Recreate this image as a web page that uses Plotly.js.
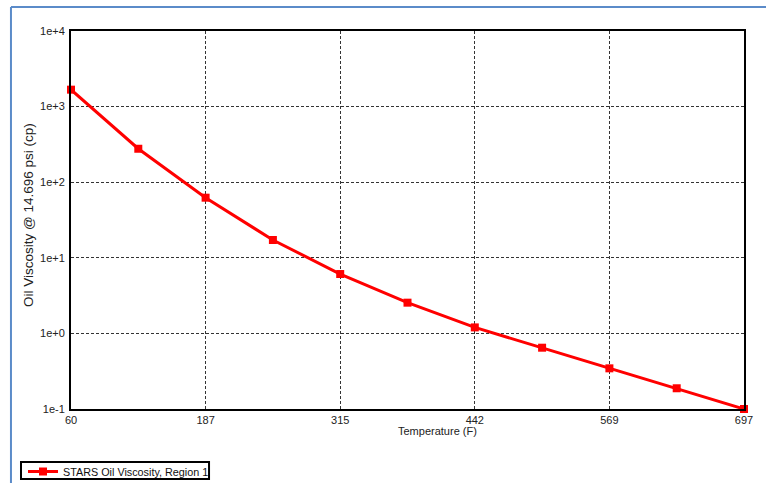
<!DOCTYPE html>
<html>
<head>
<meta charset="utf-8">
<script src="https://cdn.plot.ly/plotly-3.0.1.min.js"></script>
<style>
  html, body { margin: 0; padding: 0; background: #ffffff; }
  #chart { width: 766px; height: 483px; }
</style>
</head>
<body>
<div id="chart"></div>
<script>
// Data
const temperatureF = [60, 123.7, 187.4, 251.1, 314.8, 378.5, 442.2, 505.9, 569.6, 633.3, 697];
const viscosityCp = [1675, 277, 62.4, 17.2, 6.1, 2.55, 1.2, 0.647, 0.345, 0.188, 0.1];
const seriesName = "STARS Oil Viscosity, Region 1";
const xTitle = "Temperature (F)";
const yTitle = "Oil Viscosity @ 14.696 psi (cp)";

const xTickVals = [60, 187.4, 314.8, 442.2, 569.6, 697];
const xTickText = ["60", "187", "315", "442", "569", "697"];
const yTickVals = [0.1, 1, 10, 100, 1000, 10000];
const yTickText = ["1e-1", "1e+0", "1e+1", "1e+2", "1e+3", "1e+4"];

const trace = {
  x: temperatureF,
  y: viscosityCp,
  type: "scatter",
  mode: "lines+markers",
  name: seriesName,
  line: { color: "#ff0000", width: 3 },
  marker: { color: "#ff0000", symbol: "square", size: 8 },
  cliponaxis: false,
  showlegend: true
};

const FONT = "Liberation Sans, Arial, sans-serif";

const layout = {
  width: 766,
  height: 483,
  paper_bgcolor: "#ffffff",
  plot_bgcolor: "#ffffff",
  margin: { l: 71, r: 22, t: 31, b: 74, autoexpand: false },
  font: { family: FONT, size: 11, color: "#222222" },
  showlegend: true,
  legend: {
    x: -0.0713, y: -0.127, xanchor: "left", yanchor: "top",
    borderwidth: 0, bgcolor: "rgba(0,0,0,0)",
    font: { family: FONT, size: 10.8, color: "#111111" },
    itemwidth: 30, tracegroupgap: 0
  },
  xaxis: {
    range: [60, 697],
    tickmode: "array",
    tickvals: xTickVals,
    ticktext: xTickText,
    showgrid: true,
    gridcolor: "#333333",
    gridwidth: 1,
    griddash: "3px,2px",
    showline: true,
    linecolor: "#000000",
    linewidth: 2,
    mirror: true,
    ticks: "",
    zeroline: false,
    automargin: false,
    tickfont: { size: 11, color: "#222222" }
  },
  yaxis: {
    type: "log",
    range: [-1, 4],
    tickmode: "array",
    tickvals: yTickVals,
    ticktext: yTickText,
    showgrid: true,
    gridcolor: "#333333",
    gridwidth: 1,
    griddash: "3px,2px",
    showline: true,
    linecolor: "#000000",
    linewidth: 2,
    mirror: true,
    ticks: "",
    zeroline: false,
    automargin: false,
    ticklabelstandoff: 2,
    tickfont: { size: 11, color: "#222222" }
  },
  annotations: [
    { text: xTitle, xref: "paper", yref: "paper", x: 0.5453, y: -0.0582, xanchor: "center", yanchor: "middle",
      showarrow: false, font: { family: FONT, size: 11, color: "#222222" } },
    { text: yTitle, xref: "paper", yref: "paper", x: -0.0639, y: 0.513, xanchor: "center", yanchor: "middle",
      textangle: -90, showarrow: false, font: { family: FONT, size: 13.5, color: "#222222" } }
  ],
  shapes: [
    { type: "line", xref: "paper", yref: "paper", x0: -0.0892, x1: -0.0892, y0: 1.0635, y1: -0.2, line: { color: "#5b8bc9", width: 2 } },
    { type: "line", xref: "paper", yref: "paper", x0: -0.0892, x1: 1.04, y0: 1.0635, y1: 1.0635, line: { color: "#5b8bc9", width: 2 } },
    { type: "rect", xref: "paper", yref: "paper", x0: -0.0743, x1: 0.2051, y0: -0.1402, y1: -0.1852, line: { color: "#000000", width: 2 }, fillcolor: "rgba(0,0,0,0)" }
  ]
};

Plotly.newPlot("chart", [trace], layout, { displayModeBar: false, staticPlot: true });
</script>
</body>
</html>
